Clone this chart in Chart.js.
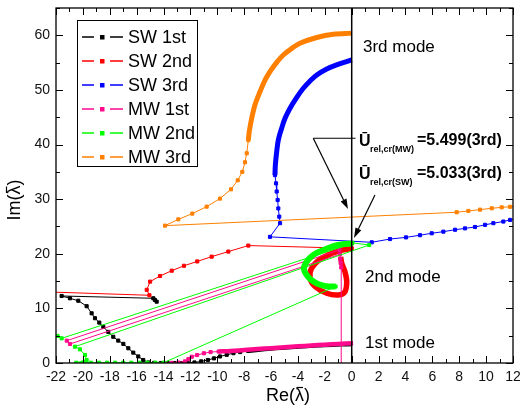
<!DOCTYPE html>
<html>
<head>
<meta charset="utf-8">
<script src="https://cdn.jsdelivr.net/npm/chart.js@4.4.1/dist/chart.umd.min.js"></script>
<style>
  html, body { margin: 0; padding: 0; background: #fff; }
</style>
</head>
<body>
<canvas id="chart" width="520" height="406"></canvas>
<script>
// Eigenvalue loci as [Re, Im] pairs.
// "dense" pieces are the runs where the squares overlap into a thick band.

// SW 1st (black)
const sw1Points = [[-14.51, 11.23], [-14.64, 11.54], [-14.76, 11.85], [-21.58, 12.27], [-20.96, 11.85],
  [-20.34, 11.4], [-19.72, 10.4], [-19.35, 9.1], [-19.1, 8.2], [-18.78, 7.4], [-18.48, 6.6], [-18.11, 5.7],
  [-17.74, 4.8], [-17.37, 4.1], [-16.99, 3.5], [-16.62, 2.7], [-16.25, 1.9], [-15.88, 1.2], [-15.51, 0.55],
  [-15.13, 0.1], [-14.7, 0.02], [-14.2, 0], [-13.7, 0], [-13.2, 0], [-12.7, 0], [-12.2, 0.03], [-11.7, 0.1],
  [-11.2, 0.3], [-10.7, 0.55], [-10.25, 0.85], [-9.8, 1.2], [-9.3, 1.5], [-8.8, 1.8], [-8.3, 2.0], [-7.7, 2.2]];
const sw1Dense = [[-7.7, 2.2], [-6, 2.6], [-4, 2.95], [-2, 3.25], [0, 3.45]];

// SW 2nd (red)
const sw2Points = [[-22.5, 13.0], [-15.05, 12.4], [-15.25, 13.4], [-15.0, 14.9], [-14.26, 15.93], [-13.39, 16.9],
  [-12.48, 17.8], [-11.49, 18.6], [-10.42, 19.47], [-9.18, 20.4], [-7.69, 21.5], [0, 21.0]];
const sw2Dense = [[0, 21.0], [-1.12, 20.4], [-2.23, 19.2], [-2.98, 17.35], [-3.1, 15.5], [-2.73, 14.0],
  [-1.86, 12.77], [-1.0, 12.45], [-0.5, 13.06], [-0.37, 14.9], [-0.5, 16.7], [-0.74, 18.25], [-0.82, 19.4]];

// SW 3rd (blue)
const sw3Dense = [[0, 55.5], [-1.12, 54.6], [-1.86, 53.85], [-2.6, 52.75], [-3.1, 51.65], [-3.6, 50.3],
  [-4.1, 48.6], [-4.59, 46.65], [-4.96, 44.8], [-5.21, 43.0], [-5.46, 40.85], [-5.58, 38.7], [-5.68, 36.26],
  [-5.71, 34.4]];
const sw3Points = [[-5.71, 34.4], [-5.63, 32.9], [-5.58, 31.4], [-5.51, 29.85], [-5.46, 28.3], [-5.39, 26.8],
  [-5.33, 25.6], [-6.08, 23.1], [1.49, 22.1], [2.85, 22.7], [4.04, 23.0], [5.08, 23.4], [5.95, 23.75],
  [6.82, 24.05], [7.69, 24.4], [8.43, 24.65], [9.17, 24.9], [9.92, 25.3], [10.54, 25.6], [11.28, 25.9],
  [11.78, 26.2], [12.4, 26.5]];

// MW 1st (magenta)
const mw1Dense = [[0.1, 3.62], [-1, 3.5], [-2, 3.36], [-3, 3.2], [-4, 3.05], [-5, 2.9], [-6, 2.72], [-7, 2.55],
  [-8, 2.38], [-9, 2.2], [-9.9, 2.1]];
const mw1Points = [[-9.9, 2.1], [-10.5, 2.0], [-11.0, 1.78], [-11.5, 1.46], [-11.9, 1.15], [-12.15, 0.7],
  [-12.4, 0.3], [-12.9, 0.08], [-13.4, 0.02], [-13.9, 0]];
const mw1Branch = [[-0.74, -2], [-0.78, 17.5], [-0.82, 18.3], [-0.85, 19.1], [-0.88, 19.9], [-20.96, 3.48],
  [-21.2, 4.09], [-0.92, 20.7]];

// MW 2nd (green)
const mw2Lead = [[-21.88, 4.95], [-21.58, 4.52], [0, 21.85]];
const mw2Dense = [[0, 21.85], [-0.5, 21.8], [-1.1, 21.55], [-1.6, 21.2], [-2.1, 20.7], [-2.6, 20.15],
  [-3.0, 19.5], [-3.3, 18.7], [-3.5, 17.9], [-3.55, 17.2], [-3.45, 16.5], [-3.25, 15.8], [-2.95, 15.1],
  [-2.5, 14.45], [-1.9, 14.05], [-1.2, 14.0]];
const mw2Points = [[-1.2, 14.0], [-14.0, 0.05], [-14.6, 0.05], [-15.2, 0.05], [-15.8, 0.05], [-16.4, 0.05],
  [-17.0, 0.05], [-17.6, 0.05], [-18.2, 0.05], [-18.8, 0.05], [-19.4, 0.05], [-20.0, 0.05], [-20.5, 0.05],
  [-19.72, 0.55], [-19.84, 1.47], [-20.22, 2.5], [-20.59, 2.99], [1.3, 21.6], [0.05, 22.0]];

// MW 3rd (orange)
const mw3Points = [[12.4, 28.75], [11.78, 28.6], [11.16, 28.5], [10.42, 28.33], [9.55, 28.08], [8.68, 27.84],
  [7.81, 27.6], [-13.89, 25.15], [-12.9, 26.3], [-11.86, 27.35], [-10.79, 28.63], [-9.8, 30.1], [-8.98, 31.8],
  [-8.48, 33.45], [-8.14, 35.0], [-7.94, 36.75], [-7.81, 38.4], [-7.69, 40.8]];
const mw3Dense = [[-7.69, 40.8], [-7.62, 42.4], [-7.44, 44.8], [-7.2, 47.25], [-6.82, 49.7], [-6.45, 51.8],
  [-6.08, 53.35], [-5.58, 55.05], [-5.09, 56.4], [-4.46, 57.6], [-3.85, 58.55], [-2.6, 59.6], [-1.37, 60.2],
  [0, 60.4]];

// annotations
const zeroLine = [[0, 0], [0, 65]];
const arrowMWBar = [[0.28, 41.15], [-2.86, 41.15]];
const arrowMW = [[-2.86, 41.15], [-0.275, 28.2]];
const arrowSW = [[1.73, 30.77], [0.17, 22.9]];

const seriesNames = ['SW 1st', 'SW 2nd', 'SW 3rd', 'MW 1st', 'MW 2nd', 'MW 3rd'];
const seriesColors = ['#000000', '#ff0000', '#0000ff', '#ff0a8c', '#00ff00', '#ff8000'];

const FONT = '"Liberation Sans", Arial, Helvetica, sans-serif';

function pts(list) {
    return list.map(function (p) { return { x: p[0], y: p[1] }; });
}

// thin line with square markers
function sparse(i, list) {
    var c = seriesColors[i];
    return {
        data: pts(list), showLine: true, borderColor: c, backgroundColor: c, borderWidth: 1,
        pointStyle: 'rect', pointRadius: 2.2, pointHoverRadius: 2.2, pointBorderWidth: 1,
        pointBorderColor: c, pointBackgroundColor: c, order: 60 - i * 10
    };
}

// run of overlapping markers, drawn as a thick band
function dense(i, list, width) {
    var c = seriesColors[i];
    return {
        data: pts(list), showLine: true, borderColor: c, backgroundColor: c, borderWidth: width || 5,
        pointRadius: 0, pointHoverRadius: 0, tension: 0.35, order: 60 - i * 10
    };
}

var datasets = [
    dense(0, sw1Dense, 4), sparse(0, sw1Points),
    sparse(1, sw2Points), dense(1, sw2Dense, 5.5),
    dense(2, sw3Dense, 5), sparse(2, sw3Points),
    dense(3, mw1Dense, 4.5), sparse(3, mw1Points), sparse(3, mw1Branch),
    sparse(4, mw2Lead), dense(4, mw2Dense, 6), sparse(4, mw2Points),
    sparse(5, mw3Points), dense(5, mw3Dense, 5),
    { data: pts(zeroLine), showLine: true, borderColor: '#000', borderWidth: 1.5, pointRadius: 0, order: 0 }
];

function drawArrow(ctx, x0, y0, x1, y1) {
    var ang = Math.atan2(y1 - y0, x1 - x0), L = 10, W = 3.2;
    var bx = x1 - L * Math.cos(ang), by = y1 - L * Math.sin(ang);
    ctx.beginPath();
    ctx.moveTo(x0, y0);
    ctx.lineTo(bx, by);
    ctx.stroke();
    ctx.beginPath();
    ctx.moveTo(x1, y1);
    ctx.lineTo(bx + W * Math.sin(ang), by - W * Math.cos(ang));
    ctx.lineTo(bx - W * Math.sin(ang), by + W * Math.cos(ang));
    ctx.closePath();
    ctx.fill();
}

// "Re(" + lambda with a bar + ")" centred on (0, 0) of the current transform
function lambdaTitle(ctx, head) {
    var full = ctx.measureText(head + '\u03BB)').width;
    var w0 = ctx.measureText(head).width;
    var wl = ctx.measureText('\u03BB').width;
    var left = -full / 2;
    ctx.textAlign = 'left';
    ctx.fillText(head + '\u03BB)', left, 0);
    ctx.lineWidth = 1.2;
    ctx.beginPath();
    ctx.moveTo(left + w0 + 1.5, -8.5);
    ctx.lineTo(left + w0 + wl - 1, -8.5);
    ctx.stroke();
}

var decor = {
    id: 'decor',
    afterDraw: function (chart) {
        var ctx = chart.ctx, a = chart.chartArea, sx = chart.scales.x, sy = chart.scales.y;
        var px = function (p) { return [sx.getPixelForValue(p[0]), sy.getPixelForValue(p[1])]; };
        ctx.save();

        // frame and inward ticks on all four sides
        ctx.strokeStyle = '#000';
        ctx.lineWidth = 1.3;
        ctx.strokeRect(a.left, a.top, a.right - a.left, a.bottom - a.top);
        ctx.lineWidth = 1;
        ctx.beginPath();
        for (var v = sx.min; v <= sx.max; v++) {
            var x = Math.round(sx.getPixelForValue(v)) + 0.5;
            var len = (v % 2 === 0) ? 7 : 4;
            ctx.moveTo(x, a.bottom); ctx.lineTo(x, a.bottom - len);
            ctx.moveTo(x, a.top); ctx.lineTo(x, a.top + len);
        }
        for (var w = sy.min; w <= sy.max; w += 5) {
            var y = Math.round(sy.getPixelForValue(w)) + 0.5;
            var l2 = (w % 10 === 0) ? 7 : 4;
            ctx.moveTo(a.left, y); ctx.lineTo(a.left + l2, y);
            ctx.moveTo(a.right, y); ctx.lineTo(a.right - l2, y);
        }
        ctx.stroke();

        // arrows
        ctx.fillStyle = '#000';
        ctx.lineWidth = 1.2;
        var b0 = px(arrowMWBar[0]), b1 = px(arrowMWBar[1]);
        ctx.beginPath(); ctx.moveTo(b0[0], b0[1]); ctx.lineTo(b1[0], b1[1]); ctx.stroke();
        var m0 = px(arrowMW[0]), m1 = px(arrowMW[1]);
        drawArrow(ctx, m0[0], m0[1], m1[0], m1[1]);
        var s0 = px(arrowSW[0]), s1 = px(arrowSW[1]);
        drawArrow(ctx, s0[0], s0[1], s1[0], s1[1]);

        // mode labels
        ctx.fillStyle = '#000';
        ctx.textBaseline = 'middle';
        ctx.textAlign = 'left';
        ctx.font = '17px ' + FONT;
        ctx.fillText('3rd mode', 363, 47);
        ctx.fillText('2nd mode', 365, 277);
        ctx.fillText('1st mode', 365, 343);

        // critical velocity labels
        ctx.textBaseline = 'alphabetic';
        [['rel,cr(MW)', '=5.499(3rd)', 145], ['rel,cr(SW)', '=5.033(3rd)', 178]].forEach(function (t) {
            ctx.font = 'bold 16px ' + FONT;
            ctx.fillText('\u016A', 359, t[2] + 1);
            ctx.font = 'bold 9px ' + FONT;
            ctx.fillText(t[0], 370, t[2] + 7);
            ctx.font = 'bold 16px ' + FONT;
            ctx.fillText(t[1], 417, t[2]);
        });

        // axis titles
        ctx.font = '18px ' + FONT;
        ctx.textBaseline = 'middle';
        ctx.strokeStyle = '#000';
        ctx.save();
        ctx.translate(288, 396);
        lambdaTitle(ctx, 'Re(');
        ctx.restore();
        ctx.save();
        ctx.translate(15, 200);
        ctx.rotate(-Math.PI / 2);
        lambdaTitle(ctx, 'Im(');
        ctx.restore();

        // legend box
        ctx.fillStyle = '#fff';
        ctx.fillRect(77, 20, 120, 146);
        ctx.lineWidth = 1;
        ctx.strokeStyle = '#000';
        ctx.strokeRect(77.5, 20.5, 120, 146);
        ctx.font = '18px ' + FONT;
        ctx.textAlign = 'left';
        seriesNames.forEach(function (name, i) {
            var cy = 37 + i * 24;
            ctx.strokeStyle = seriesColors[i];
            ctx.fillStyle = seriesColors[i];
            ctx.lineWidth = 1.5;
            ctx.beginPath();
            ctx.moveTo(82, cy); ctx.lineTo(94, cy);
            ctx.moveTo(110, cy); ctx.lineTo(123, cy);
            ctx.stroke();
            ctx.fillRect(100, cy - 2, 4.5, 4.5);
            ctx.fillStyle = '#000';
            ctx.fillText(name, 128, cy + 1);
        });

        ctx.restore();
    }
};

new Chart(document.getElementById('chart'), {
    type: 'scatter',
    data: { datasets: datasets },
    options: {
        responsive: false,
        animation: false,
        events: [],
        devicePixelRatio: 1,
        layout: { padding: { top: 8, right: 7, left: 0, bottom: 0 } },
        plugins: { legend: { display: false }, tooltip: { enabled: false } },
        scales: {
            x: {
                type: 'linear', min: -22, max: 12,
                grid: { display: false, drawTicks: false },
                border: { display: false },
                ticks: { stepSize: 2, includeBounds: false, padding: 6, color: '#111', font: { family: FONT, size: 14 } },
                afterFit: function (s) { s.height = 43; s.paddingLeft = 0; s.paddingRight = 0; }
            },
            y: {
                type: 'linear', min: 0, max: 65,
                grid: { display: false, drawTicks: false },
                border: { display: false },
                ticks: { stepSize: 10, includeBounds: false, padding: 6, color: '#111', font: { family: FONT, size: 14 } },
                afterFit: function (s) { s.width = 56; s.paddingTop = 0; s.paddingBottom = 0; }
            }
        }
    },
    plugins: [decor]
});
</script>
</body>
</html>
